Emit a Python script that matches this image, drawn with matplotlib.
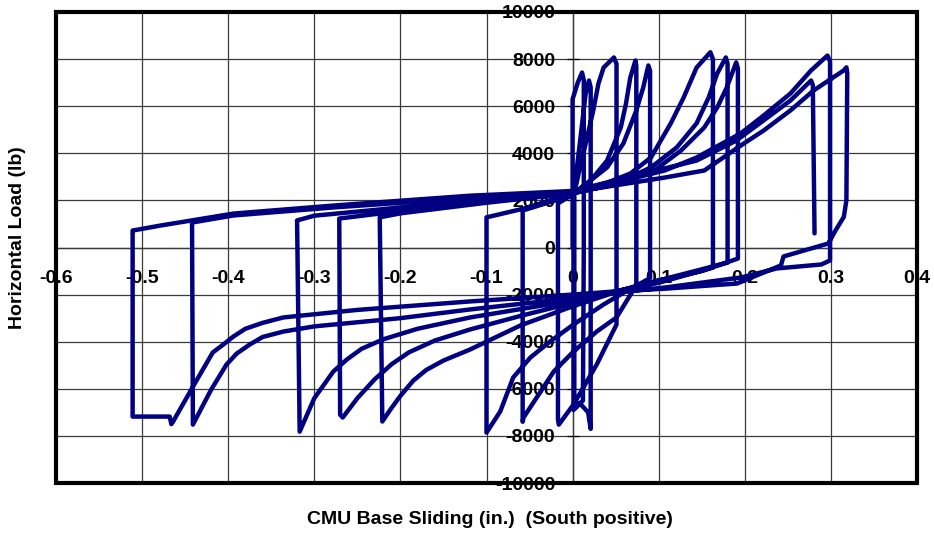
import numpy as np
import matplotlib
matplotlib.use("Agg")
import matplotlib.pyplot as plt
from matplotlib.patches import Rectangle

plt.rcParams['font.family'] = ['Liberation Sans', 'DejaVu Sans']
plt.rcParams['font.weight'] = 'bold'

# Base sliding (in.) and horizontal load (lb), cycle by cycle
c0_x = [0.000, 0.000, 0.000, 0.006, 0.011, 0.013, 0.013, 0.012, 0.004, 0.001,
        0.001, 0.008, 0.015, 0.019, 0.021, 0.021, 0.018, 0.008, 0.002, 0.002]
c0_y = [0, 3000, 6300, 7000, 7430, 7100, 0, -6500, -6800, -6900,
        2200, 4300, 6500, 7090, 6800, -7700, -7000, -6600, -6800, 2300]

c1_x = [0.007, 0.016, 0.024, 0.030, 0.036, 0.048, 0.051, 0.051, 0.028, 0.001,
        -0.016, -0.017]
c1_y = [3140, 4540, 5820, 6960, 7640, 8070, 7800, -3270, -4970, -6670,
        -7520, -7300]

c2_x = [-0.017, 0.000, 0.021, 0.040, 0.056, 0.062, 0.067, 0.073, 0.074, 0.074,
        0.051, 0.028, 0.001, -0.022, -0.037, -0.057, -0.058]
c2_y = [1870, 2250, 2840, 3690, 5100, 6110, 7220, 7940, 7700, -1600,
        -2970, -3570, -4420, -5270, -6110, -7220, -7400]

c3_x = [-0.058, -0.020, 0.000, 0.040, 0.059, 0.074, 0.082, 0.088, 0.090, 0.090,
        0.060, 0.036, 0.001, -0.026, -0.049, -0.069, -0.084, -0.100]
c3_y = [1570, 2000, 2250, 3400, 4420, 5820, 6790, 7730, 7500, -1300,
        -1900, -2420, -3270, -3990, -4670, -5520, -6960, -7860]

c4_x = [-0.100, -0.057, 0.000, 0.040, 0.067, 0.091, 0.114, 0.129, 0.144, 0.160,
        0.163, 0.163, 0.100, 0.055, 0.000, -0.060, -0.119, -0.150, -0.170, -0.185,
        -0.200, -0.212, -0.221]
c4_y = [1280, 1650, 2300, 2750, 3140, 3820, 5270, 6370, 7640, 8290,
        8000, -850, -1500, -1830, -2500, -3300, -4330, -4800, -5200, -5650,
        -6300, -6900, -7390]

c5_x = [-0.224, -0.200, -0.100, 0.000, 0.050, 0.091, 0.121, 0.144, 0.158, 0.168,
        0.178, 0.180, 0.180, 0.100, 0.055, 0.000, -0.060, -0.119, -0.160, -0.190,
        -0.210, -0.230, -0.250, -0.267, -0.270]
c5_y = [1280, 1450, 1900, 2300, 2700, 3400, 4250, 5270, 6370, 7390,
        8070, 7800, -640, -1400, -1830, -2350, -2900, -3480, -3950, -4450,
        -4950, -5600, -6400, -7220, -7100]

c6_x = [-0.271, -0.200, -0.100, 0.000, 0.050, 0.095, 0.126, 0.153, 0.168, 0.179,
        0.190, 0.192, 0.192, 0.150, 0.100, 0.055, 0.000, -0.119, -0.180, -0.220,
        -0.245, -0.262, -0.278, -0.300, -0.317]
c6_y = [1230, 1550, 1950, 2300, 2700, 3270, 4120, 5100, 5950, 6790,
        7860, 7600, -470, -1000, -1400, -1830, -2250, -2970, -3450, -3900,
        -4300, -4750, -5270, -6400, -7820]

c7_x = [-0.320, -0.300, -0.200, -0.100, 0.000, 0.107, 0.144, 0.195, 0.222, 0.253,
        0.277, 0.296, 0.299, 0.299, 0.289, 0.237, 0.196, 0.107, 0.055, 0.000,
        -0.119, -0.200, -0.300, -0.336, -0.360, -0.375, -0.390, -0.402, -0.420,
        -0.441]
c7_y = [1150, 1350, 1700, 2000, 2300, 3270, 3820, 4840, 5610, 6540,
        7520, 8150, 7900, -550, -720, -890, -1270, -1700, -1900, -2150,
        -2630, -3000, -3350, -3570, -3800, -4120, -4500, -4970, -6050,
        -7520]

c8_x = [-0.442, -0.394, -0.278, -0.119, 0.000, 0.107, 0.153, 0.199, 0.222, 0.253,
        0.280, 0.315, 0.318, 0.319, 0.318, 0.315, 0.305, 0.297, 0.245, 0.242,
        0.191, 0.107, 0.055, 0.000, -0.119, -0.250, -0.336, -0.360, -0.380, -0.394,
        -0.405, -0.418, -0.440, -0.464, -0.466, -0.468, -0.511]
c8_y = [1060, 1360, 1700, 2100, 2350, 2970, 3270, 4420, 4970, 5820,
        6670, 7520, 7650, 7400, 2000, 1300, 700, 170, -380, -760,
        -1530, -1750, -1850, -2000, -2290, -2650, -2970, -3200, -3450, -3780,
        -4100, -4460, -5850, -7390, -7500, -7180, -7180]

c9_x = [-0.511, -0.479, -0.394, -0.278, -0.119, 0.000, 0.144, 0.190, 0.222, 0.253,
        0.277, 0.279, 0.281]
c9_y = [720, 930, 1440, 1780, 2200, 2400, 3690, 4540, 5400, 6240,
        7090, 6900, 600]

x_ticks = [-0.6, -0.5, -0.4, -0.3, -0.2, -0.1, 0.0, 0.1, 0.2, 0.3, 0.4]
x_tick_labels = ['-0.6', '-0.5', '-0.4', '-0.3', '-0.2', '-0.1', '0', '0.1', '0.2', '0.3', '0.4']
y_ticks = [-10000, -8000, -6000, -4000, -2000, 0, 2000, 4000, 6000, 8000, 10000]

slide = np.concatenate([c0_x, c1_x, c2_x, c3_x, c4_x, c5_x, c6_x, c7_x, c8_x, c9_x])
load = np.concatenate([c0_y, c1_y, c2_y, c3_y, c4_y, c5_y, c6_y, c7_y, c8_y, c9_y])

fig = plt.figure(figsize=(9.34, 5.34), dpi=100)
ax = fig.add_axes([56 / 934, 1 - 483 / 534, (917 - 56) / 934, (483 - 12) / 534])

ax.plot(slide, load, color='#000080', lw=3.2, solid_joinstyle='round',
        solid_capstyle='round', zorder=3)

ax.set_xlim(-0.6, 0.4)
ax.set_ylim(-10000, 10000)
ax.set_xticks(x_ticks)
ax.set_xticklabels(x_tick_labels)
ax.set_yticks(y_ticks)
ax.set_yticklabels([str(v) for v in y_ticks])
ax.grid(True, color='#3a3a3a', lw=0.9, zorder=1)

# axes cross at the origin; the outer frame is drawn separately
for side in ('top', 'right'):
    ax.spines[side].set_visible(False)
ax.spines['left'].set_position(('data', 0))
ax.spines['bottom'].set_position(('data', 0))
ax.spines['left'].set_linewidth(0.9)
ax.spines['bottom'].set_linewidth(0.9)
ax.spines['left'].set_zorder(1)
ax.spines['bottom'].set_zorder(1)
ax.tick_params(axis='y', direction='inout', length=9, width=0.9, pad=8.0,
               labelsize=14)
ax.tick_params(axis='x', length=0, pad=16, labelsize=14)
for lbl in ax.get_xticklabels() + ax.get_yticklabels():
    lbl.set_fontweight('bold')
    lbl.set_zorder(5)

ax.add_patch(Rectangle((0, 0), 1, 1, transform=ax.transAxes, fill=False,
                       edgecolor='black', lw=3, clip_on=False, zorder=6))

fig.text(18 / 934, 1 - 238 / 534, 'Horizontal Load (lb)', rotation=90,
         ha='center', va='center', fontsize=14, fontweight='bold')
fig.text(490 / 934, 1 - 519 / 534, 'CMU Base Sliding (in.)  (South positive)',
         ha='center', va='center', fontsize=14, fontweight='bold')

fig.savefig('out.png', dpi=100)
